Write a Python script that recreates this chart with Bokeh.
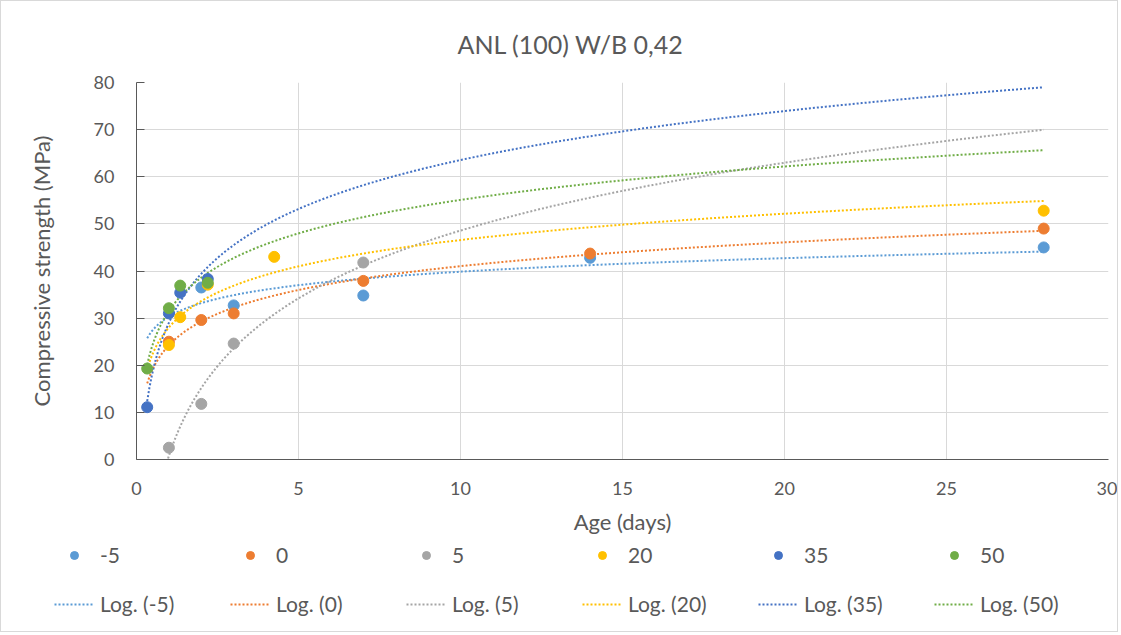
import numpy as np
from bokeh.plotting import figure
from bokeh.models import Legend, LegendItem, Range1d
from bokeh.embed import file_html
from bokeh.resources import INLINE

# ---------------- data ----------------
series_names = ["-5", "0", "5", "20", "35", "50"]
series_colors = ["#5B9BD5", "#ED7D31", "#A5A5A5", "#FFC000", "#4472C4", "#70AD47"]

ages_m5 = [2, 3, 7, 14, 28]
strength_m5 = [36.5, 32.7, 34.8, 42.8, 45.0]

ages_0 = [1, 2, 3, 7, 14, 28]
strength_0 = [25.0, 29.6, 31.0, 37.9, 43.7, 49.0]

ages_5 = [1, 2, 3, 7]
strength_5 = [2.5, 11.8, 24.6, 41.8]

ages_20 = [1, 1.35, 2.2, 4.25, 28]
strength_20 = [24.3, 30.2, 37.1, 43.0, 52.8]

ages_35 = [0.33, 1, 1.35, 2.2]
strength_35 = [11.1, 31.0, 35.4, 38.3]

ages_50 = [0.33, 1, 1.35, 2.2]
strength_50 = [19.3, 32.1, 36.9, 37.5]

x_ticks = [0, 5, 10, 15, 20, 25, 30]
y_ticks = [0, 10, 20, 30, 40, 50, 60, 70, 80]

all_ages = [ages_m5, ages_0, ages_5, ages_20, ages_35, ages_50]
all_strength = [strength_m5, strength_0, strength_5, strength_20, strength_35, strength_50]

# ---------------- main figure ----------------
FONT = "Lato"
TXT = "#595959"
FIG_W = 1118

p = figure(width=FIG_W, height=540, output_backend="svg", toolbar_location=None,
           x_range=Range1d(0, 30), y_range=Range1d(0, 80),
           min_border_left=135, min_border_right=11, min_border_top=81,
           min_border_bottom=82)
p.outline_line_color = None
p.background_fill_color = "white"
p.border_fill_color = "white"

p.title.text = "ANL (100) W/B 0,42"
p.title.align = "left"
p.title.offset = 321
p.title.standoff = 48
p.title.text_font = FONT
p.title.text_font_size = "25px"
p.title.text_font_style = "normal"
p.title.text_color = TXT

p.xaxis.ticker = x_ticks
p.yaxis.ticker = y_ticks
for ax in (p.xaxis[0], p.yaxis[0]):
    ax.axis_line_color = "#595959"
    ax.axis_line_width = 1
    ax.major_label_text_font = FONT
    ax.major_label_text_font_size = "18px"
    ax.major_label_text_color = TXT
    ax.axis_label_text_font = FONT
    ax.axis_label_text_font_size = "22px"
    ax.axis_label_text_font_style = "normal"
    ax.axis_label_text_color = TXT
    ax.minor_tick_line_color = None
    ax.major_tick_out = 0
p.xaxis.major_tick_in = 0
p.xaxis.major_label_standoff = 22
p.xaxis.axis_label = "Age (days)"
p.xaxis.axis_label_standoff = 10
p.yaxis.major_tick_in = 8
p.yaxis.major_tick_line_color = "#595959"
p.yaxis.major_label_standoff = 22
p.yaxis.axis_label = "Compressive strength (MPa)"
p.yaxis.axis_label_standoff = 36

p.xgrid.grid_line_color = "#D9D9D9"
p.ygrid.grid_line_color = "#D9D9D9"

# trend lines (logarithmic least-squares fit, like Excel) span all ages
x_min = min(min(a) for a in all_ages)
x_max = max(max(a) for a in all_ages)
tx = np.linspace(x_min, x_max, 400)

for ages, vals, col in zip(all_ages, all_strength, series_colors):
    b, a = np.polyfit(np.log(ages), vals, 1)
    ty = a + b * np.log(tx)
    p.line(tx, ty, line_color=col, line_width=2, line_dash="2 2")
for ages, vals, col in zip(all_ages, all_strength, series_colors):
    p.scatter(ages, vals, size=11, fill_color=col, line_color=col)

# ---------------- legend strip (separate root below) ----------------
LEG_H = 92
lg = figure(width=FIG_W, height=LEG_H, output_backend="svg", toolbar_location=None,
            x_range=Range1d(0, 1), y_range=Range1d(0, 1),
            min_border_left=0, min_border_right=0, min_border_top=0,
            min_border_bottom=0)
lg.axis.visible = False
lg.grid.visible = False
lg.outline_line_color = None
lg.background_fill_color = "white"
lg.border_fill_color = "white"

# legend-only renderers: one point kept outside the visible range
pt_r = [lg.scatter([-5], [-5], size=9, fill_color=c, line_color=c) for c in series_colors]
ln_r = [lg.line([-5, -4], [-5, -4], line_color=c, line_width=2, line_dash="2 2")
        for c in series_colors]

common = dict(orientation="horizontal", glyph_width=40, glyph_height=20,
              label_height=20, label_width=130, label_standoff=6, spacing=0,
              padding=0, margin=0, border_line_color=None,
              background_fill_alpha=0, label_text_font=FONT,
              label_text_font_size="21px", label_text_color=TXT)
leg_pts = Legend(items=[LegendItem(label=n, renderers=[r])
                        for n, r in zip(series_names, pt_r)],
                 location=(53, LEG_H - 27), **common)
leg_log = Legend(items=[LegendItem(label="Log. (%s)" % n, renderers=[r])
                        for n, r in zip(series_names, ln_r)],
                 location=(53, LEG_H - 76), **common)
lg.add_layout(leg_pts, "center")
lg.add_layout(leg_log, "center")

p.styles = {"border": "1px solid #D9D9D9", "border-bottom": "none"}
lg.styles = {"border": "1px solid #D9D9D9", "border-top": "none"}

open("out.html", "w").write(file_html([p, lg], INLINE))
